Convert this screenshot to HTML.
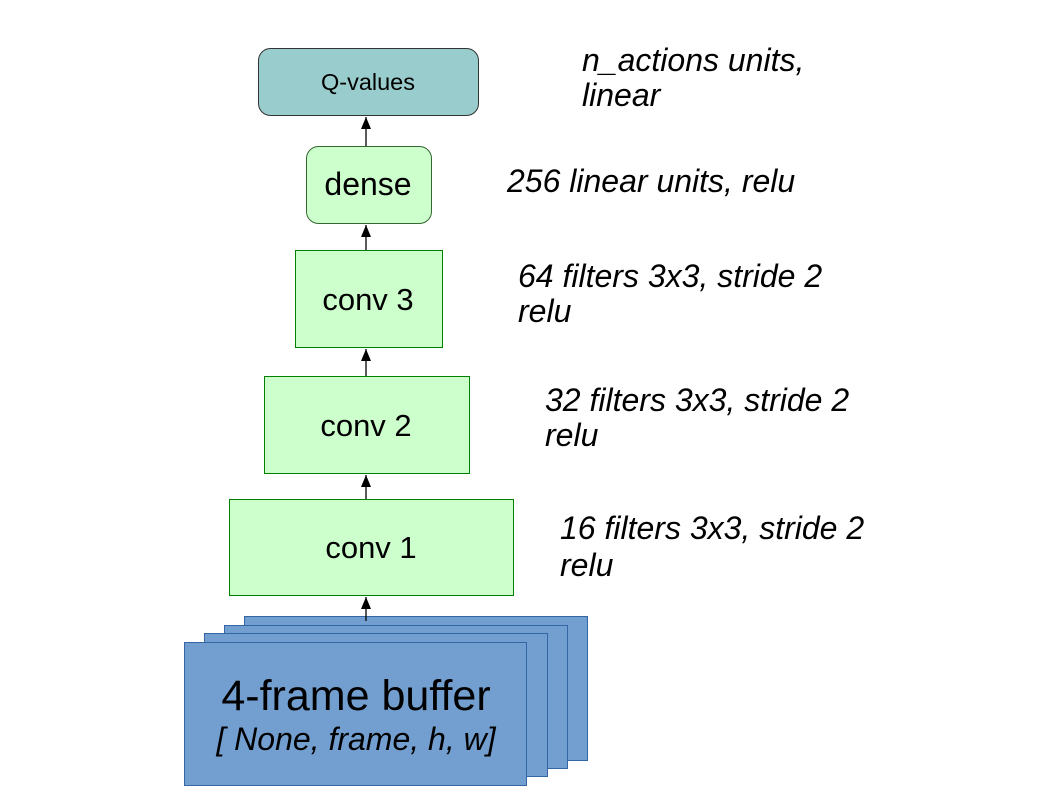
<!DOCTYPE html>
<html><head><meta charset="utf-8"><style>html,body{margin:0;padding:0;background:#fff}</style></head>
<body>
<svg width="1058" height="794" xmlns="http://www.w3.org/2000/svg" font-family="Liberation Sans, sans-serif">
<defs><marker id="a" markerWidth="12" markerHeight="10" refX="12" refY="5" orient="auto" markerUnits="userSpaceOnUse"><path d="M0,0 L12,5 L0,10 Z" fill="#000"/></marker></defs>
<rect x="244.5" y="616.5" width="343" height="144" fill="#729fcf" stroke="#3465a4"/>
<rect x="224.5" y="625.5" width="343" height="143" fill="#729fcf" stroke="#3465a4"/>
<rect x="204.5" y="633.5" width="343" height="143" fill="#729fcf" stroke="#3465a4"/>
<rect x="184.5" y="642.5" width="342" height="143" fill="#729fcf" stroke="#3465a4"/>
<text x="356" y="710" font-size="43" text-anchor="middle">4-frame buffer</text>
<text x="356" y="750" font-size="32" font-style="italic" text-anchor="middle">[ None, frame, h, w]</text>
<rect x="229.5" y="499.5" width="284" height="96" fill="#ccffcc" stroke="#008000"/>
<text x="371" y="558" font-size="31" text-anchor="middle">conv 1</text>
<rect x="264.5" y="376.5" width="205" height="97" fill="#ccffcc" stroke="#008000"/>
<text x="366" y="436" font-size="31" text-anchor="middle">conv 2</text>
<rect x="295.5" y="250.5" width="147" height="97" fill="#ccffcc" stroke="#008000"/>
<text x="368" y="310" font-size="31" text-anchor="middle">conv 3</text>
<rect x="306.5" y="146.5" width="125" height="77" rx="12" fill="#ccffcc" stroke="#336633"/>
<text x="368" y="195" font-size="32" text-anchor="middle">dense</text>
<rect x="258.5" y="48.5" width="220" height="67" rx="12" fill="#99cccc" stroke="#333"/>
<text x="368" y="90" font-size="23.5" text-anchor="middle">Q-values</text>
<g stroke="#000" stroke-width="1.3" fill="none">
<line x1="366" y1="621" x2="366" y2="597" marker-end="url(#a)"/>
<line x1="366" y1="499" x2="366" y2="475" marker-end="url(#a)"/>
<line x1="366" y1="376" x2="366" y2="349" marker-end="url(#a)"/>
<line x1="366" y1="250" x2="366" y2="225" marker-end="url(#a)"/>
<line x1="366" y1="146" x2="366" y2="117" marker-end="url(#a)"/>
</g>
<g font-size="32" font-style="italic">
<text x="582" y="71">n_actions units,</text>
<text x="582" y="106">linear</text>
<text x="507" y="192">256 linear units, relu</text>
<text x="518" y="287">64 filters 3x3, stride 2</text>
<text x="518" y="322">relu</text>
<text x="545" y="411">32 filters 3x3, stride 2</text>
<text x="545" y="446">relu</text>
<text x="560" y="539">16 filters 3x3, stride 2</text>
<text x="560" y="576">relu</text>
</g>
</svg>
</body></html>
